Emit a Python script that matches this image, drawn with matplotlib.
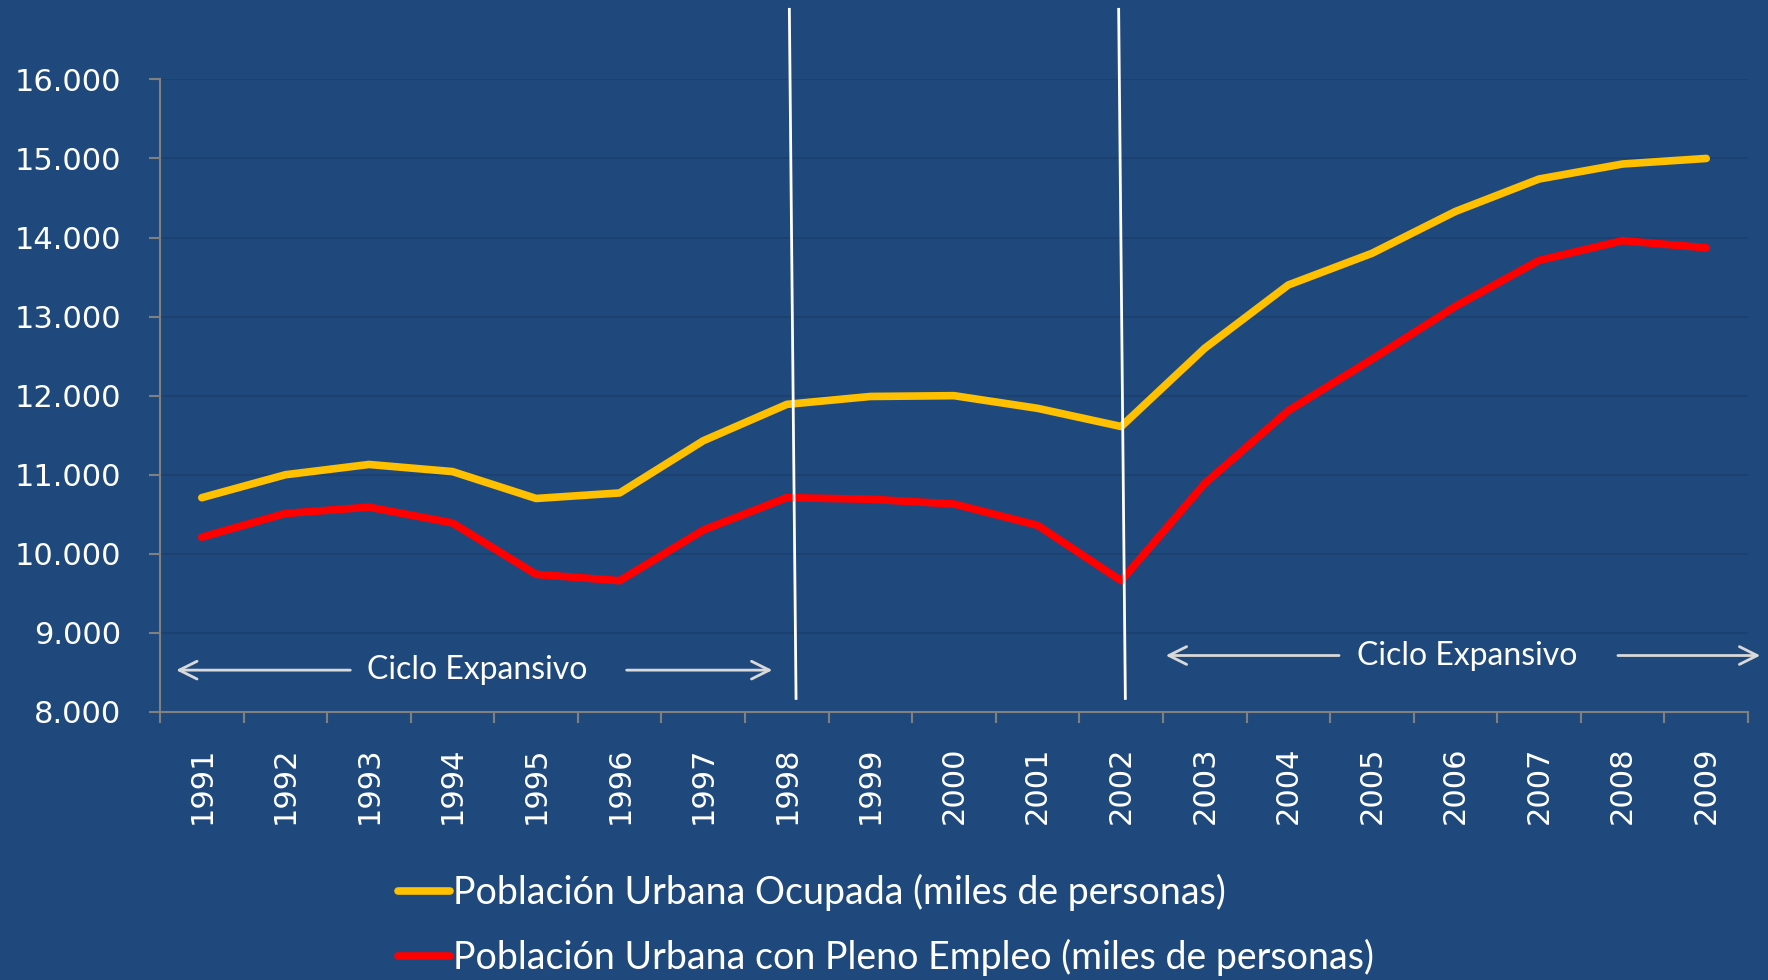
import matplotlib
matplotlib.use("Agg")
import matplotlib.pyplot as plt
from matplotlib.ticker import FuncFormatter, FixedLocator
from matplotlib.lines import Line2D

years = [1991, 1992, 1993, 1994, 1995, 1996, 1997, 1998, 1999, 2000,
         2001, 2002, 2003, 2004, 2005, 2006, 2007, 2008, 2009]
ocupada = [10710, 11000, 11130, 11040, 10700, 10770, 11430, 11890, 11990, 12000,
           11840, 11610, 12600, 13400, 13800, 14330, 14740, 14930, 15000]
pleno = [10210, 10510, 10590, 10390, 9740, 9660, 10300, 10710, 10690, 10630,
         10360, 9660, 10890, 11810, 12460, 13130, 13710, 13960, 13870]
labels = ["Población Urbana Ocupada (miles de personas)",
          "Población Urbana con Pleno Empleo (miles de personas)"]
cycle_breaks = [1998, 2002]
cycle_label = "Ciclo Expansivo"

BG = "#1F497D"
YELLOW = "#FFC000"
RED = "#FF0000"

fig = plt.figure(figsize=(17.68, 9.8), dpi=100, facecolor=BG)
ax = fig.add_axes([0.0905, 0.2735, 0.8982, 0.6455])
ax.set_facecolor(BG)

x = list(range(len(years)))
ax.plot(x, ocupada, color=YELLOW, lw=5.5, solid_capstyle="round", zorder=3)
ax.plot(x, pleno, color=RED, lw=5.5, solid_capstyle="round", zorder=3)

ax.set_xlim(-0.5, len(years) - 0.5)
ax.set_ylim(8000, 16000)
ax.yaxis.set_major_locator(FixedLocator(range(8000, 16001, 1000)))
ax.yaxis.set_major_formatter(FuncFormatter(lambda v, p: f"{v:,.0f}".replace(",", ".")))
ax.grid(axis="y", color="#19406D", lw=1.2, zorder=0)

ax.set_xticks(x)
ax.set_xticklabels([str(y) for y in years], rotation=90, va="top")
ax.set_xticks([i - 0.5 for i in range(len(years) + 1)], minor=True)
ax.tick_params(axis="x", which="major", length=0, pad=25, labelsize=22, labelcolor="white")
ax.tick_params(axis="x", which="minor", length=8, width=1.5, color="#808080", direction="out")
ax.tick_params(axis="y", length=8, width=1.5, color="#808080", pad=20, labelsize=22, labelcolor="white")

for s in ["top", "right"]:
    ax.spines[s].set_visible(False)
for s in ["left", "bottom"]:
    ax.spines[s].set_color("#808080")
    ax.spines[s].set_linewidth(1.5)

# vertical separators (slightly slanted, extending above the plot)
slant = {1998: (0.03, 0.11), 2002: (-0.03, 0.05)}
for b in cycle_breaks:
    i = years.index(b)
    dt, db = slant[b]
    ax.plot([i + dt, i + db], [16886, 8171], color="white", lw=2, clip_on=False, zorder=4)

# Ciclo Expansivo annotations
arrow_kw = dict(arrowstyle="->", color="#D9D9D9", lw=2, mutation_scale=32)
font_ann = dict(family=["Lato", "DejaVu Sans"], fontsize=23, color="white")

y1 = 8529
ax.annotate("", xy=(-0.34, y1), xytext=(1.81, y1), arrowprops=arrow_kw, annotation_clip=False)
ax.annotate("", xy=(6.86, y1), xytext=(5.05, y1), arrowprops=arrow_kw, annotation_clip=False)
ax.text(3.29, y1, cycle_label, ha="center", va="center", **font_ann)

y2 = 8714
ax.annotate("", xy=(11.50, y2), xytext=(13.64, y2), arrowprops=arrow_kw, annotation_clip=False)
ax.annotate("", xy=(18.68, y2), xytext=(16.91, y2), arrowprops=arrow_kw, annotation_clip=False)
ax.text(15.14, y2, cycle_label, ha="center", va="center", **font_ann)

handles = [Line2D([], [], color=YELLOW, lw=5.5, solid_capstyle="round"),
           Line2D([], [], color=RED, lw=5.5, solid_capstyle="round")]
leg = fig.legend(handles, labels, loc="upper left", bbox_to_anchor=(0.225, 0.108),
                 frameon=False, handlelength=1.4, handletextpad=0.08, labelspacing=0.74,
                 borderpad=0, borderaxespad=0,
                 prop=dict(family=["Lato", "DejaVu Sans"], size=27))
for t in leg.get_texts():
    t.set_color("white")

fig.savefig("out.png", dpi=100, facecolor=BG)
